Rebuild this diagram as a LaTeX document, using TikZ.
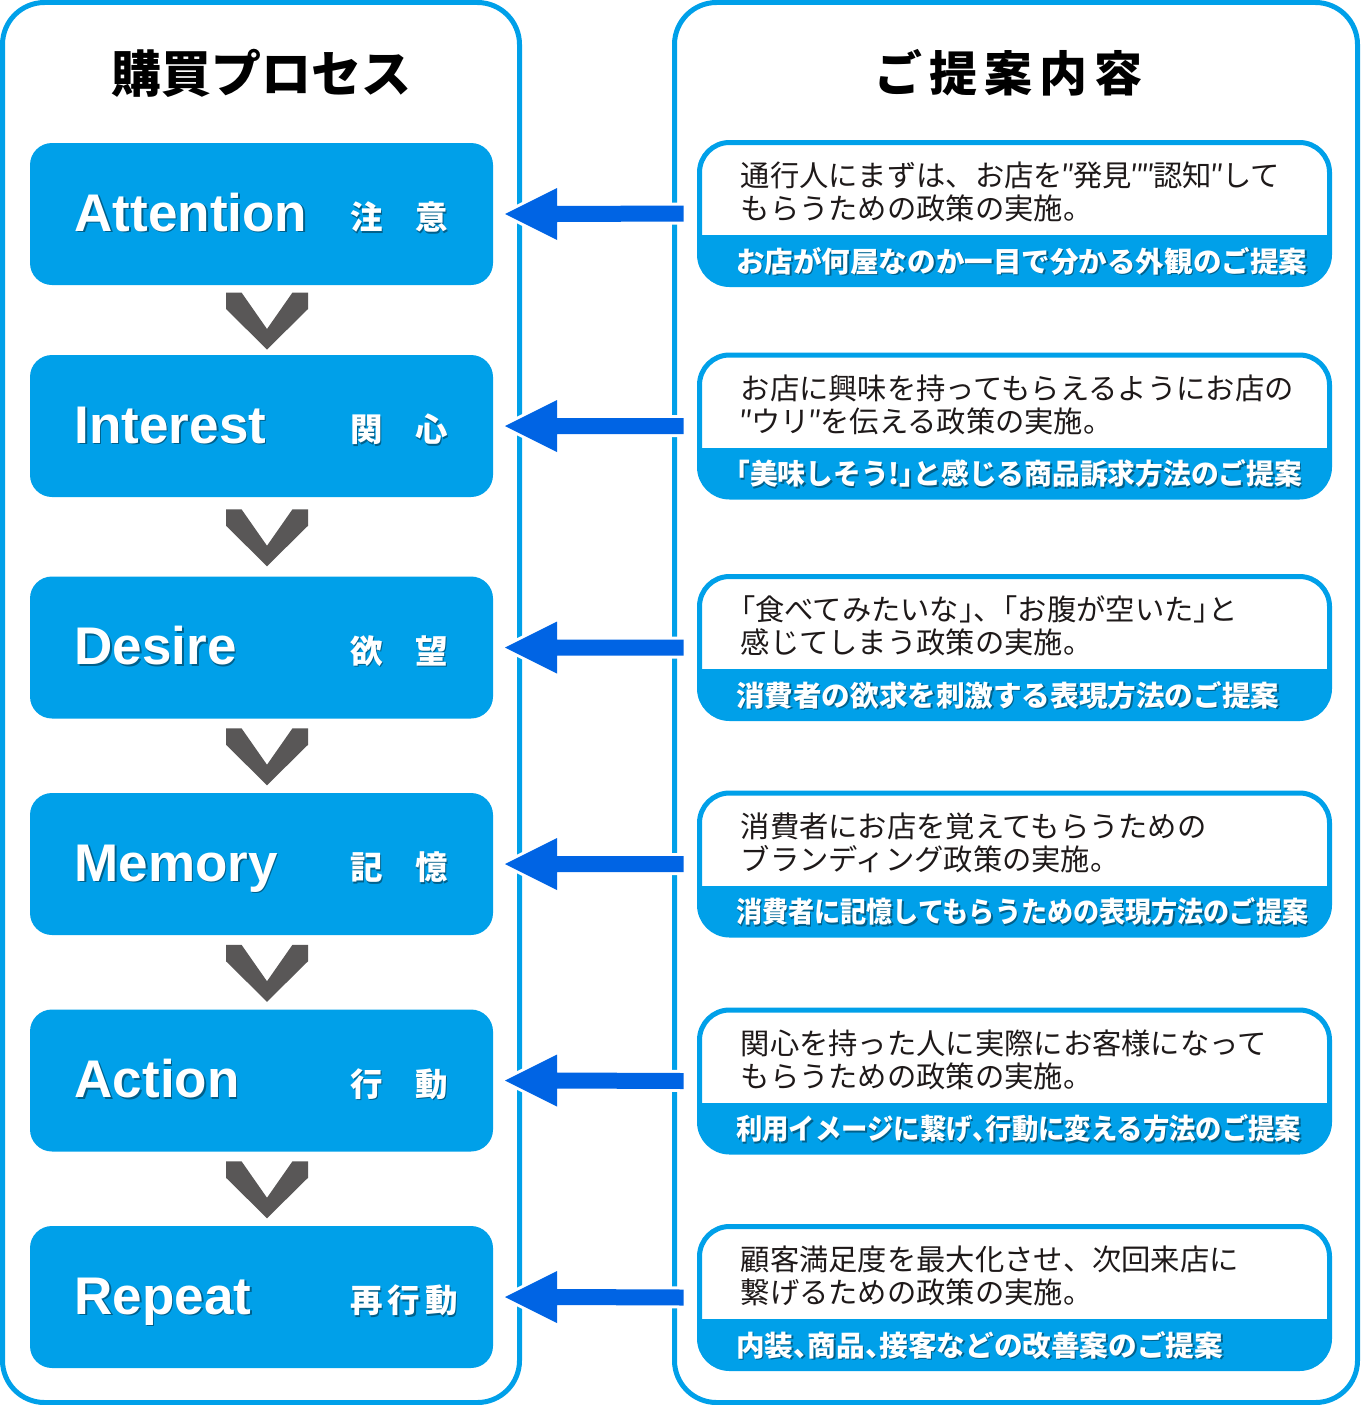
\documentclass[tikz,border=0pt]{standalone}
\usepackage{fontspec}
\usepackage{graphicx}
\usetikzlibrary{calc}
\newfontfamily\jp{Noto Sans CJK JP}
\newfontfamily\en{Liberation Sans}
\definecolor{boxblue}{RGB}{0,160,233}
\definecolor{arrowblue}{RGB}{0,100,228}
\definecolor{chevgray}{RGB}{89,87,87}
\definecolor{txtcol}{RGB}{30,25,25}
\newcommand\fsz[1]{\fontsize{#1pt}{#1pt}\selectfont}
\newcommand\qq{\makebox[0.36em][c]{″}}
\newcommand\ob{\makebox[0.5em][r]{「}}
\newcommand\cb{\makebox[0.5em][l]{」}}
\newcommand\tk{\makebox[0.5em][l]{、}}
\tikzset{
 panel/.style={draw=boxblue, line width=5pt, rounded corners=42pt, inner sep=0, outer sep=0},
 lboxsty/.style={fill=boxblue, rounded corners=22pt, minimum width=463pt, minimum height=142pt, inner sep=0, outer sep=0},
 rboxsty/.style={fill=white, rounded corners=30pt, minimum width=630pt, minimum height=142pt, inner sep=0, outer sep=0},
 entxt/.style={font=\en\bfseries\fsz{53}, text=white, inner sep=0, anchor=base west},
 jplbl/.style={font=\jp\bfseries\fsz{32.5}, text=white, inner sep=0, anchor=base west},
 shadowtxt/.style={text=black, text opacity=0.4},
 bodytxt/.style={font=\jp\fsz{29.3}, text=txtcol, inner sep=0, anchor=base west},
 bandtxt/.style={font=\jp\bfseries\fsz{28.5}, text=white, inner sep=0, anchor=base west},
 titletxt/.style={font=\jp\bfseries, text=black, inner sep=0, anchor=base},
 arrowsty/.style={fill=arrowblue, draw=white, line width=6pt, line join=miter, miter limit=10},
}
\newcommand\LBox[4]{%
 \node[lboxsty] (#1) at (261.5,#2) {};
 \node[entxt, shadowtxt] (#1es) at ($(#1.west)+(46,18.5)$) {#3};
 \node[entxt] (#1e) at ($(#1.west)+(44.5,17)$) {#3};
 \node[jplbl, shadowtxt] (#1js) at ($(#1.west)+(321.5,17)$) {#4};
 \node[jplbl] (#1j) at ($(#1.west)+(320,15.5)$) {#4};
}
\newcommand\RBox[6]{%
 \node[rboxsty] (#1) at (1014.5,#2) {};
 \begin{scope}
  \clip[rounded corners=30pt] (#1.south west) rectangle (#1.north east);
  \fill[boxblue] ($(#1.west)+(-5,21.5)$) rectangle ($(#1.south east)+(5,5)$);
 \end{scope}
 \draw[boxblue, line width=5pt, rounded corners=30pt] (#1.south west) rectangle (#1.north east);
 \node[bodytxt] (#1a) at ($(#1.west)+(41,-27)$) {#3};
 \node[bodytxt] (#1b) at ($(#1.west)+(41,6)$) {#4};
 \node[bandtxt, shadowtxt] (#1s) at ($(#1.west)+(38,60)$) {\resizebox{#6pt}{\height}{#5}};
 \node[bandtxt] (#1c) at ($(#1.west)+(36.5,58.5)$) {\resizebox{#6pt}{\height}{#5}};
}
\begin{document}
\begin{tikzpicture}[x=1pt,y=-1pt]
\useasboundingbox (0,0) rectangle (1360,1405);
\fill[white] (0,0) rectangle (1360,1405);
% panels
\node[panel, minimum width=517pt, minimum height=1400pt] (lp) at (261,702.5) {};
\node[panel, minimum width=683pt, minimum height=1400pt] (rp) at (1016,702.5) {};
% titles
\node[titletxt, font=\jp\bfseries\fsz{50}] (t1) at (261,92.5) {購買プロセス};
\node[titletxt, font=\jp\bfseries\fsz{48}] (t2) at (1008.5,91.5) {ご\hspace{7pt}提\hspace{7pt}案\hspace{7pt}内\hspace{7pt}容};
% left boxes
\LBox{a1}{214}{Attention}{注　意}
\LBox{a2}{426}{Interest}{関　心}
\LBox{a3}{647.5}{Desire}{欲　望}
\LBox{a4}{864}{Memory}{記　憶}
\LBox{a5}{1080.5}{Action}{行　動}
\LBox{a6}{1297}{Repeat}{再\hspace{5pt}行\hspace{5pt}動}
% right boxes
\RBox{p1}{213.5}{通行人にまずは、お店を\qq{}発見\qq\qq{}認知\qq{}して}{もらうための政策の実施。}{お店が何屋なのか一目で分かる外観のご提案}{571}
\RBox{p2}{426}{お店に興味を持ってもらえるようにお店の}{\qq{}ウリ\qq{}を伝える政策の実施。}{\ob{}美味しそう!\cb{}と感じる商品訴求方法のご提案}{566}
\RBox{p3}{647.5}{\ob{}食べてみたいな\cb{}、\ob{}お腹が空いた\cb{}と}{感じてしまう政策の実施。}{消費者の欲求を刺激する表現方法のご提案}{543}
\RBox{p4}{864}{消費者にお店を覚えてもらうための}{ブランディング政策の実施。}{消費者に記憶してもらうための表現方法のご提案}{572}
\RBox{p5}{1081}{関心を持った人に実際にお客様になって}{もらうための政策の実施。}{利用イメージに繋げ\tk{}行動に変える方法のご提案}{565}
\RBox{p6}{1297.5}{顧客満足度を最大化させ、次回来店に}{繋げるための政策の実施。}{内装\tk{}商品\tk{}接客などの改善案のご提案}{487}
% chevrons
\foreach \i/\j in {1/2,2/3,3/4,4/5,5/6}{
 \coordinate (c\i) at ($(a\i.south)!0.5!(a\j.north)+(5.5,1)$);
 \fill[chevgray, shift={(c\i)}] (-41,-28.5) -- (-25.5,-28.5) -- (0,8) -- (25.5,-28.5) -- (41,-28.5) -- (41,-12) -- (0,28.5) -- (-41,-12) -- cycle;
}
% arrows (from each proposal box to its process step)
\foreach \i in {1,...,6}{
 \path[arrowsty] ($(a\i.east)+(12,0)$) -- ($(a\i.east)+(64,-26)$) -- ($(a\i.east)+(64,-8)$)
   -- ($(p\i.west)+(-16,-8)$) -- ($(p\i.west)+(-16,8)$)
   -- ($(a\i.east)+(64,8)$) -- ($(a\i.east)+(64,26)$) -- cycle;
 \fill[arrowblue] ($(a\i.east)+(12,0)$) -- ($(a\i.east)+(64,-26)$) -- ($(a\i.east)+(64,-8)$)
   -- ($(p\i.west)+(-16,-8)$) -- ($(p\i.west)+(-16,8)$)
   -- ($(a\i.east)+(64,8)$) -- ($(a\i.east)+(64,26)$) -- cycle;
}
\end{tikzpicture}
\end{document}
